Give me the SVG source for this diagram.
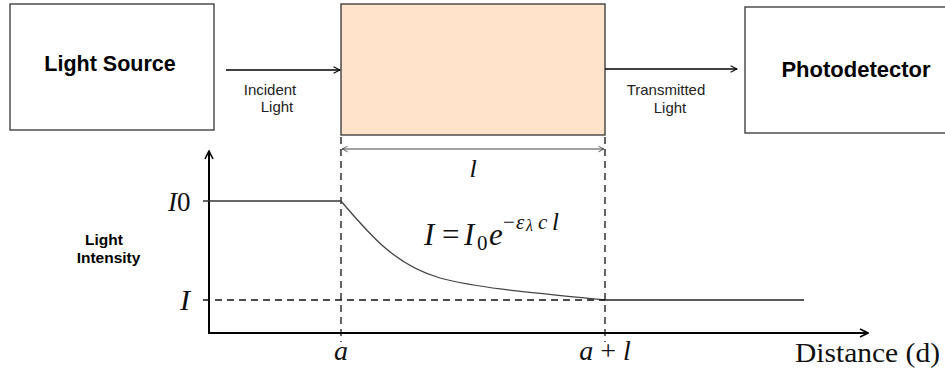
<svg xmlns="http://www.w3.org/2000/svg" width="945" height="378" viewBox="0 0 945 378">
<style>
.box{fill:#fff;stroke:#333;stroke-width:1.3}
.bold{font-family:"Liberation Sans",Arial,sans-serif;font-weight:bold;fill:#000}
.lbl{font-family:"Liberation Sans",Arial,sans-serif;font-size:15px;fill:#222}
.math{font-family:"Liberation Serif","Times New Roman",serif;fill:#111}
.it{font-style:italic}
.dash{stroke:#111;stroke-width:1.3;stroke-dasharray:7,5;fill:none}
</style>
<defs>
<marker id="arr" viewBox="0 0 10 10" refX="9" refY="5" markerWidth="8" markerHeight="8" markerUnits="userSpaceOnUse" orient="auto">
<path d="M1,1 L9,5 L1,9" fill="none" stroke="#000" stroke-width="1.3"/>
</marker>
<marker id="axarr" viewBox="0 0 10 10" refX="9" refY="5" markerWidth="10" markerHeight="10" markerUnits="userSpaceOnUse" orient="auto">
<path d="M1,1 L9,5 L1,9" fill="none" stroke="#000" stroke-width="1.6"/>
</marker>
<marker id="dim" viewBox="0 0 10 10" refX="9" refY="5" markerWidth="7" markerHeight="7" markerUnits="userSpaceOnUse" orient="auto-start-reverse">
<path d="M1,1 L9,5 L1,9" fill="none" stroke="#444" stroke-width="1.2"/>
</marker>
</defs>
<rect width="945" height="378" fill="#fff"/>
<g id="light-source">
<rect class="box" x="10" y="4" width="204" height="126"/>
<text class="bold" x="110" y="71" font-size="21.5" text-anchor="middle">Light Source</text>
</g>
<g id="sample">
<rect x="341" y="4" width="264" height="131" fill="#ffe4cb" stroke="#333" stroke-width="1.3"/>
</g>
<g id="photodetector">
<rect class="box" x="745" y="7" width="205" height="126"/>
<text class="bold" x="856" y="77" font-size="22" text-anchor="middle">Photodetector</text>
</g>
<g id="connectors">
<line x1="226" y1="70" x2="340" y2="70" stroke="#000" stroke-width="1.5" marker-end="url(#arr)"/>
<line x1="605" y1="69" x2="737" y2="69" stroke="#000" stroke-width="1.5" marker-end="url(#arr)"/>
<text class="lbl" x="270" y="95" text-anchor="middle">Incident</text>
<text class="lbl" x="277" y="112" text-anchor="middle">Light</text>
<text class="lbl" x="666" y="95" text-anchor="middle">Transmitted</text>
<text class="lbl" x="670" y="113" text-anchor="middle">Light</text>
</g>
<g id="graph">
<line x1="342" y1="149" x2="604" y2="149" stroke="#444" stroke-width="1.2" marker-start="url(#dim)" marker-end="url(#dim)"/>
<text class="math it" x="473" y="177" font-size="26" text-anchor="middle">l</text>
<line class="dash" x1="341" y1="137" x2="341" y2="342"/>
<line class="dash" x1="605" y1="137" x2="605" y2="342"/>
<line x1="209" y1="333" x2="209" y2="151" stroke="#000" stroke-width="2" marker-end="url(#axarr)"/>
<line x1="208" y1="333" x2="868" y2="333" stroke="#000" stroke-width="2" marker-end="url(#axarr)"/>
<line x1="203" y1="201" x2="341" y2="201" stroke="#333" stroke-width="1.3"/>
<path d="M341,201 C370,235 395,265 440,278 C485,290 560,295 605,300" fill="none" stroke="#444" stroke-width="1.3"/>
<line class="dash" x1="203" y1="300" x2="605" y2="300"/>
<line x1="605" y1="300" x2="804" y2="300" stroke="#222" stroke-width="1.3"/>
<text class="math" x="168" y="211" font-size="27"><tspan class="it">I</tspan>0</text>
<text class="math it" x="180" y="310" font-size="30">I</text>
<text class="math it" x="341" y="360" font-size="28" text-anchor="middle">a</text>
<text class="math" x="605" y="360" font-size="28" text-anchor="middle"><tspan class="it">a</tspan> + <tspan class="it">l</tspan></text>
<text class="math" x="795" y="362" font-size="27" textLength="145" lengthAdjust="spacingAndGlyphs">Distance (d)</text>
<text class="bold" x="104" y="245" font-size="15.5" text-anchor="middle">Light</text>
<text class="bold" x="108.5" y="263" font-size="15.5" text-anchor="middle">Intensity</text>
<text class="math" font-size="31"><tspan class="it" x="424" y="245">I</tspan><tspan x="442" y="245">=</tspan><tspan class="it" x="464" y="245">I</tspan><tspan font-size="21" x="477" y="250">0</tspan><tspan class="it" x="489" y="245">e</tspan><tspan font-size="21" x="503" y="229">−</tspan><tspan class="it" font-size="21" x="516" y="229">ε</tspan><tspan class="it" font-size="16" x="526" y="231">λ</tspan><tspan class="it" font-size="21" x="538" y="229">c</tspan><tspan class="it" font-size="25" x="552" y="230">l</tspan></text>
</g>
</svg>
